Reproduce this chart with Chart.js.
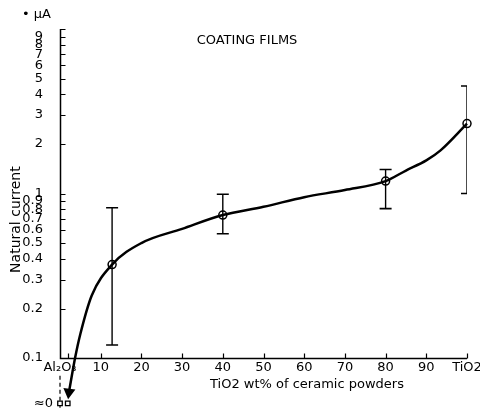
<!DOCTYPE html>
<html>
<head>
<meta charset="utf-8">
<script src="https://cdn.jsdelivr.net/npm/chart.js@4.4.1/dist/chart.umd.min.js"></script>
<style>
  html, body { margin: 0; background: #fff; overflow: hidden; }
  #wrap { width: 480px; height: 427px; position: relative; }
</style>
</head>
<body>
<div id="wrap"><canvas id="natChart"></canvas></div>
<script>
// --- dados ---
const compositions = [12.8, 40, 80, 100];          // TiO2 wt%
const currentMean = [0.37, 0.74, 1.19, 2.66];      // uA
const currentLow = [0.12, 0.57, 0.81, 1.0];
const currentHigh = [0.82, 0.99, 1.40, 4.5];

// curva desenhada à mão (termina com a seta em ~0)
const curveX = [2.2, 3.7, 5, 7.8, 12.8, 20, 30, 40, 50, 60, 70, 80, 85, 90, 93.5, 100];
const curveY = [0.062, 0.1, 0.14, 0.24, 0.37, 0.50, 0.61, 0.74, 0.83, 0.95, 1.05, 1.19, 1.38, 1.59, 1.83, 2.66];

// pontos "≈0" para Al2O3
const zeroX = [0, 1.9];
const zeroLevel = 0.053;

const xTickValues = [0, 2, 10, 20, 30, 40, 50, 60, 70, 80, 90, 100];
const xTickLabels = ['Al₂O₃', '', '10', '20', '30', '40', '50', '60', '70', '80', '90', 'TiO2'];
const yTickValues = [0.1, 0.2, 0.3, 0.4, 0.5, 0.6, 0.7, 0.8, 0.9, 1, 2, 3, 4, 5, 6, 7, 8, 9, 10];
const yTickLabels = ['0.1', '0.2', '0.3', '0.4', '0.5', '0.6', '0.7', '0.8', '0.9', '1', '2', '3', '4', '5', '6', '7', '8', '9', ''];

const FONT = 'DejaVu Sans';

// monta as barras de erro como segmentos separados por null
const errorPoints = [];
compositions.forEach((c, i) => {
    errorPoints.push({ x: c, y: currentLow[i] });
    errorPoints.push({ x: c, y: currentHigh[i] });
    errorPoints.push({ x: c, y: null });
});

const curvePoints = curveX.map((x, i) => ({ x: x, y: curveY[i] }));
const meanPoints = compositions.map((c, i) => ({ x: c, y: currentMean[i] }));
const zeroPoints = zeroX.map(x => ({ x: x, y: zeroLevel }));

// eixos, ticks para dentro, rótulos do eixo x e textos extras
const extrasPlugin = {
    id: 'extras',
    beforeDatasetsDraw(chart) {
        const ctx = chart.ctx;
        const xs = chart.scales.x;
        const ys = chart.scales.y;
        const base = Math.round(ys.getPixelForValue(0.1)) + 0.5;
        const x0 = Math.round(xs.getPixelForValue(0)) + 0.5;
        ctx.save();
        ctx.strokeStyle = '#000';
        ctx.lineWidth = 1.5;
        ctx.beginPath();
        ctx.moveTo(x0, ys.getPixelForValue(10));
        ctx.lineTo(x0, base);
        ctx.lineTo(xs.getPixelForValue(100), base);
        ctx.stroke();
        ctx.lineWidth = 1.2;
        ctx.beginPath();
        yTickValues.forEach(v => {
            const py = Math.round(ys.getPixelForValue(v)) + 0.5;
            ctx.moveTo(x0, py);
            ctx.lineTo(x0 + 5, py);
        });
        xTickValues.forEach(v => {
            if (v === 0) return;
            const px = Math.round(xs.getPixelForValue(v)) + 0.5;
            ctx.moveTo(px, base);
            ctx.lineTo(px, base - 5);
        });
        ctx.stroke();

        ctx.fillStyle = '#000';
        ctx.font = '13px "' + FONT + '"';
        ctx.textAlign = 'center';
        ctx.textBaseline = 'top';
        xTickValues.forEach((v, i) => {
            ctx.fillText(xTickLabels[i], xs.getPixelForValue(v), base + 3);
        });
        ctx.restore();
    },
    afterDraw(chart) {
        const ctx = chart.ctx;
        const ys = chart.scales.y;
        ctx.save();
        ctx.fillStyle = '#000';
        ctx.textBaseline = 'middle';
        ctx.font = '13px "' + FONT + '"';
        ctx.textAlign = 'center';
        ctx.fillText('COATING FILMS', 247, 41);
        ctx.fillText('TiO2 wt% of ceramic powders', 307, 385);
        ctx.textAlign = 'right';
        ctx.fillText('• µA', 51, 15);
        ctx.fillText('≈0', 53, ys.getPixelForValue(zeroLevel));
        ctx.restore();
    }
};

const ctx = document.getElementById('natChart').getContext('2d');
new Chart(ctx, {
    type: 'line',
    data: {
        datasets: [
            {
                label: 'curva',
                data: curvePoints,
                borderColor: '#000',
                borderWidth: 2.5,
                cubicInterpolationMode: 'monotone',
                backgroundColor: '#000',
                pointStyle: 'triangle',
                pointRadius: c => c.dataIndex === 0 ? 4.5 : 0,
                pointRotation: 187,
                clip: false
            },
            {
                label: 'erro',
                data: errorPoints,
                borderColor: '#000',
                borderWidth: 1.4,
                spanGaps: false,
                pointStyle: 'line',
                pointRadius: 6,
                pointBorderWidth: 1.6,
                pointBorderColor: '#000'
            },
            {
                label: 'media',
                data: meanPoints,
                showLine: false,
                pointStyle: 'circle',
                pointRadius: 4,
                pointBackgroundColor: '#fff',
                pointBorderColor: '#000',
                pointBorderWidth: 1.5,
                clip: false
            },
            {
                label: 'zero',
                data: zeroPoints,
                showLine: false,
                pointStyle: 'rect',
                pointRadius: 3.2,
                pointBackgroundColor: '#fff',
                pointBorderColor: '#000',
                pointBorderWidth: 1.3,
                clip: false
            },
            {
                label: 'tracejado',
                data: [{ x: 0, y: 0.078 }, { x: 0, y: 0.044 }],
                borderColor: '#000',
                borderWidth: 1.2,
                borderDash: [4, 3],
                pointRadius: 0,
                clip: false
            }
        ]
    },
    options: {
        responsive: true,
        maintainAspectRatio: false,
        animation: false,
        layout: { padding: { top: 29, right: 13, left: 0, bottom: 0 } },
        plugins: {
            legend: { display: false },
            tooltip: { enabled: false }
        },
        scales: {
            x: {
                type: 'linear',
                min: 0,
                max: 100,
                display: false
            },
            y: {
                type: 'logarithmic',
                position: 'left',
                min: 0.0482,
                max: 10,
                bounds: 'data',
                afterBuildTicks: scale => { scale.ticks = yTickValues.map(v => ({ value: v })); },
                afterFit: scale => { scale.width = 60; },
                grid: { display: false },
                border: { display: false },
                title: {
                    display: true,
                    text: 'Natural current',
                    color: '#000',
                    font: { family: FONT, size: 14 },
                    padding: { top: 8, bottom: 0 }
                },
                ticks: {
                    autoSkip: false,
                    padding: 9,
                    color: '#000',
                    font: { family: FONT, size: 13 },
                    callback: (v, i) => yTickLabels[i]
                }
            }
        }
    },
    plugins: [extrasPlugin]
});
</script>
</body>
</html>
